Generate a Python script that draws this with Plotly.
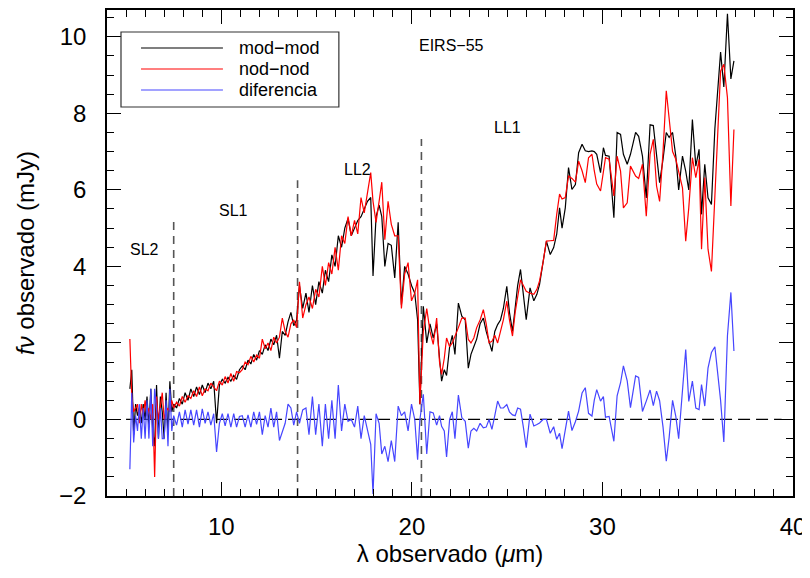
import plotly.graph_objects as go

# ---------------- data ----------------
wave = [5.2, 5.3, 5.4, 5.5, 5.6, 5.7, 5.8, 5.9, 6.0, 6.1, 6.2, 6.3, 6.4, 6.5, 6.6, 6.7, 6.8, 6.9, 7.0, 7.1, 7.2, 7.3, 7.4, 7.5,
        7.65, 7.8, 7.95, 8.1, 8.25, 8.4, 8.55, 8.7, 8.85, 9.0, 9.15, 9.3, 9.45, 9.6, 9.75, 9.9, 10.05, 10.2, 10.35, 10.5,
        10.65, 10.8, 10.95, 11.1, 11.25, 11.4, 11.55, 11.7, 11.85, 12.0, 12.15, 12.3, 12.45, 12.6, 12.75, 12.9, 13.05,
        13.2, 13.35, 13.5, 13.65, 13.8, 13.95,
        14.1, 14.27, 14.44, 14.6, 14.78, 14.95, 15.12, 15.3, 15.46, 15.63, 15.8, 15.97, 16.14, 16.31, 16.48, 16.65,
        16.82, 16.99, 17.16, 17.33, 17.5, 17.67, 17.84, 17.96, 18.12, 18.28, 18.42, 18.58, 18.75, 18.92, 19.1, 19.28,
        19.45, 19.62, 19.8, 19.98, 20.15, 20.3, 20.42,
        20.6, 20.78, 20.95, 21.12, 21.3, 21.45, 21.56, 21.7, 21.82, 21.98, 22.12, 22.26, 22.44, 22.62, 22.8, 22.96,
        23.1, 23.25, 23.4, 23.58, 23.75, 23.9, 24.05, 24.2, 24.35, 24.5, 24.65, 24.8, 24.98, 25.12, 25.28, 25.42,
        25.55, 25.7, 25.85, 26.0, 26.2, 26.4, 26.56, 26.7, 26.88, 27.06, 27.26, 27.44, 27.6, 27.75, 27.88, 28.05,
        28.22, 28.4, 28.58, 28.75, 28.93, 29.1, 29.27, 29.45, 29.57, 29.7, 29.9, 30.05, 30.16, 30.35, 30.6, 30.77,
        30.95, 31.1, 31.3, 31.47, 31.6, 31.74, 31.9, 32.1, 32.3, 32.5, 32.67, 32.84, 33.0, 33.18, 33.35, 33.5,
        33.68, 33.85, 34.0, 34.2, 34.37, 34.53, 34.72, 34.9, 35.07, 35.2, 35.37, 35.54, 35.72, 35.9, 36.05, 36.2,
        36.37, 36.56, 36.74, 36.9]

mod_mod = [0.8, 1.3, -0.4, 0.4, 0.1, 0.3, -0.1, 0.4, 0.0, 0.6, -0.2, 0.8, -0.3, -0.7, 0.9, -0.5, 0.6, 0.2, -0.5, 0.7, -0.4, 1.0, 0.2, 0.4,
           0.30, 0.55, 0.40, 0.70, 0.50, 0.80, 0.60, 0.85, 0.65, 0.90, 0.70, 0.95, 0.80, 1.00, -0.10, 0.90, 1.05, 0.95, 1.10, 1.00,
           1.15, 1.05, 1.30, 1.40, 1.30, 1.55, 1.45, 1.70, 1.55, 1.80, 1.70, 1.95, 1.80, 2.10, 1.95, 2.20, 1.60,
           2.30, 2.20, 2.55, 2.80, 2.45, 2.60,
           3.5, 2.9, 3.3, 2.8, 3.5, 3.0, 3.6, 3.3, 3.9, 3.6, 4.3, 4.0, 4.8, 4.5, 5.0, 5.25,
           4.8, 5.0, 5.2, 5.3, 5.5, 5.7, 5.8, 3.75, 5.3, 5.6, 5.3, 4.0, 4.6, 4.55, 3.7, 5.15,
           3.0, 4.0, 3.8, 3.5, 3.3, 2.6, 0.4,
           2.96, 2.0, 2.5, 2.13, 2.5, 1.6, 1.0, 1.3, 1.15, 1.9, 2.2, 1.7, 3.04, 2.7, 2.6, 1.34,
           1.7, 1.9, 2.1, 2.5, 2.65, 2.3, 2.0, 1.78, 2.3, 2.48, 2.6, 2.9, 3.48, 2.8, 2.3, 2.9,
           3.5, 3.92, 3.3, 2.61, 3.44, 3.1, 3.27, 3.53, 4.1, 4.66, 4.31, 4.49, 4.84, 5.53, 5.0, 5.53,
           6.58, 6.01, 6.14, 6.97, 7.19, 7.02, 7.0, 7.02, 7.0, 6.93, 6.45, 7.1, 6.9, 6.88, 5.27, 7.5,
           7.45, 6.93, 6.67, 6.93, 7.2, 7.5, 7.4, 6.88, 5.79, 7.7, 7.68, 6.84, 6.19, 6.8, 7.5, 7.37,
           7.5, 6.88, 6.0, 6.88, 6.49, 6.0, 7.84, 6.62, 7.06, 5.36, 6.67, 5.79, 5.62, 7.6, 8.5, 9.6,
           8.69, 10.6, 8.9, 9.37]

nod_nod = [2.1, 0.6, 0.2, 0.3, 0.4, -0.1, 0.4, 0.1, 0.5, 0.1, 0.3, 0.0, 0.4, -1.5, 0.6, 0.0, 0.3, 0.7, 0.0, 0.2, 0.3, 0.2, 0.5, 0.3,
           0.45, 0.35, 0.60, 0.45, 0.62, 0.55, 0.75, 0.60, 0.85, 0.62, 0.80, 0.75, 0.95, 0.85, 0.75, 1.00, 0.90, 1.12, 0.95, 1.20,
           1.00, 1.25, 1.22, 1.30, 1.50, 1.43, 1.65, 1.50, 1.68, 1.60, 2.10, 1.85, 2.00, 1.80, 2.15, 2.00, 2.15,
           2.65, 2.30, 2.15, 2.50, 2.60, 2.40,
           3.6, 2.65, 3.0, 3.2, 2.9, 3.4, 3.2, 4.0, 3.5, 4.1, 3.8, 4.5, 3.9, 4.8, 4.6, 5.3,
           4.8, 5.2, 4.85, 5.8, 5.4, 5.95, 6.45, 5.7, 5.15, 5.7, 6.2, 4.7, 5.7, 5.1, 4.8, 4.8,
           2.9, 3.8, 4.1, 3.1, 3.3, 3.65, 0.4,
           2.3, 2.9, 2.3, 1.96, 2.65, 1.5, 1.18, 1.6, 2.13, 1.9, 2.0, 2.2, 2.4, 2.65, 2.65, 2.09,
           2.0, 2.13, 2.4, 2.6, 2.87, 2.5, 2.0, 2.04, 2.2, 2.0, 2.3, 2.6, 3.09, 2.6, 2.18, 2.8,
           3.2, 3.65, 3.5, 3.35, 3.3, 3.27, 3.4, 3.62, 4.1, 4.66, 4.67, 4.68, 5.36, 5.89, 5.76, 5.8,
           6.36, 6.3, 6.2, 6.75, 6.5, 6.19, 6.84, 6.93, 6.5, 6.15, 5.97, 6.5, 6.84, 6.8, 5.84, 6.88,
           6.49, 5.53, 5.66, 6.62, 6.5, 6.36, 6.3, 6.67, 5.31, 6.93, 7.32, 6.1, 5.7, 7.0, 8.59, 7.84,
           7.0, 6.8, 6.5, 6.05, 4.66, 5.53, 6.84, 6.32, 6.8, 4.45, 6.32, 4.45, 3.87, 5.7, 7.3, 9.1,
           9.28, 8.41, 5.58, 7.58]

diferencia = [-1.3, 0.7, -0.6, 0.1, -0.3, 0.4, -0.5, 0.3, -0.5, 0.5, -0.5, 0.8, -0.7, 0.8, 0.3, -0.5, 0.3, -0.5, -0.5, 0.5, -0.7, 0.8, -0.3, 0.1,
              -0.15, 0.20, -0.20, 0.25, -0.12, 0.25, -0.15, 0.25, -0.20, 0.28, -0.10, 0.20, -0.15, 0.15, -0.85, -0.10, 0.15, -0.17, 0.15, -0.20,
              0.15, -0.20, 0.08, 0.10, -0.20, 0.12, -0.20, 0.20, -0.13, 0.20, -0.40, 0.10, -0.20, 0.30, -0.20, 0.20, -0.55,
              -0.35, -0.10, 0.40, 0.30, -0.15, 0.20,
              -0.1, 0.25, 0.3, -0.4, 0.6, -0.4, 0.4, -0.7, 0.4, -0.5, 0.5, -0.5, 0.9, -0.3, 0.4, -0.05,
              0.0, -0.2, 0.35, -0.5, 0.1, -0.25, -0.65, -1.95, 0.15, -0.1, -0.9, -0.7, -1.1, -0.55, -1.1, 0.35,
              0.1, 0.2, -0.3, 0.4, 0.0, -1.05, 0.0,
              0.66, -0.9, 0.2, 0.17, -0.15, 0.1, -0.18, -0.3, -0.98, 0.0, 0.2, -0.5, 0.64, 0.05, -0.05, -0.75,
              -0.3, -0.23, -0.3, -0.1, -0.22, -0.2, 0.0, -0.26, 0.1, 0.48, 0.3, 0.3, 0.39, 0.2, 0.12, 0.1,
              0.3, 0.27, -0.2, -0.74, 0.14, -0.17, -0.13, -0.09, 0.0, 0.0, -0.36, -0.19, -0.52, -0.36, -0.76, -0.27,
              0.22, -0.29, -0.06, 0.22, 0.69, 0.83, 0.16, 0.09, 0.5, 0.78, 0.48, 0.6, 0.06, 0.08, -0.57, 0.62,
              0.96, 1.4, 1.01, 0.31, 0.7, 1.14, 1.1, 0.21, 0.48, 0.77, 0.36, 0.74, 0.49, -0.2, -1.09, -0.47,
              0.5, 0.08, -0.5, 0.83, 1.83, 0.47, 1.0, 0.3, 0.26, 0.91, 0.35, 1.34, 1.75, 1.9, 1.2, 0.5,
              -0.59, 2.19, 3.32, 1.79]

# module boundaries (dashed vertical lines) and labels
boundary_x = [7.5, 14.0, 20.5]
boundary_top = [5.2, 6.25, 7.33]
module_names = ["SL2", "SL1", "LL2", "LL1", "EIRS\u221255"]
module_x = [5.95, 10.63, 17.16, 25.0, 22.1]
module_y = [4.45, 5.47, 6.54, 7.62, 9.76]
zero_line_x = [5.0, 39.4]

series_names = ["mod\u2212mod", "nod\u2212nod", "diferencia"]
series_colors = ["#000000", "#ff0000", "#4646ff"]

FONT = "Liberation Sans"

fig = go.Figure()

# zero line
fig.add_trace(go.Scatter(x=zero_line_x, y=[0, 0], mode="lines",
                         line=dict(color="black", width=1.2, dash="12px,6px"),
                         showlegend=False, hoverinfo="skip"))
# boundaries
for bx, bt in zip(boundary_x, boundary_top):
    fig.add_trace(go.Scatter(x=[bx, bx], y=[-2, bt], mode="lines",
                             line=dict(color="#555555", width=1.6, dash="8px,6px"),
                             showlegend=False, hoverinfo="skip"))

for name, ys, col in zip(series_names, [mod_mod, nod_nod, diferencia], series_colors):
    fig.add_trace(go.Scatter(x=wave, y=ys, mode="lines", name=name,
                             line=dict(color=col, width=1.2), showlegend=False))

# module labels
for t, xx, yy in zip(module_names, module_x, module_y):
    fig.add_annotation(x=xx, y=yy, text=t, showarrow=False,
                       font=dict(family=FONT, size=16, color="black"))

# hand-drawn legend box (long sample lines like the original)
fig.add_shape(type="rect", xref="paper", yref="paper", x0=0.0204, x1=0.338, y0=0.8004, y1=0.9547,
              line=dict(color="#333333", width=1.2), fillcolor="white", layer="above")
leg_rows = [0.9218, 0.8786, 0.8354]
for name, col, ry in zip(series_names, series_colors, leg_rows):
    fig.add_shape(type="line", xref="paper", yref="paper", x0=0.0496, x1=0.169, y0=ry, y1=ry,
                  line=dict(color=col, width=1.2), layer="above")
    fig.add_annotation(xref="paper", yref="paper", x=0.1895, y=ry, text=name, showarrow=False,
                       xanchor="left", yanchor="middle",
                       font=dict(family=FONT, size=18, color="black"))

axis_common = dict(showline=True, linecolor="black", linewidth=1.5, mirror="ticks",
                   ticks="inside", tickcolor="black", tickwidth=1.2, ticklen=14,
                   showgrid=False, zeroline=False, automargin=False,
                   tickfont=dict(family=FONT, size=24, color="black"))

fig.update_xaxes(range=[4, 40], tick0=0, dtick=10,
                 minor=dict(dtick=1, ticks="inside", ticklen=7, tickcolor="black", tickwidth=1.2, showgrid=False),
                 ticklabelstandoff=8,
                 title=dict(text="\u03bb observado (<i>\u03bc</i>m)", standoff=4,
                            font=dict(family=FONT, size=24, color="black")),
                 **axis_common)
fig.update_yaxes(range=[-2, 10.7], tick0=0, dtick=2,
                 minor=dict(dtick=0.5, ticks="inside", ticklen=7, tickcolor="black", tickwidth=1.2, showgrid=False),
                 ticklabelstandoff=14,
                 title=dict(text="<i>f\u03bd</i> observado (mJy)", standoff=18,
                            font=dict(family=FONT, size=24, color="black")),
                 **axis_common)

# the page adds an 8px body margin, so margins are reduced by 8px on the left/top
fig.update_layout(width=810, height=578, margin=dict(l=99, r=25, t=2, b=90),
                  paper_bgcolor="white", plot_bgcolor="white", showlegend=False)

fig.write_html("out.html")
